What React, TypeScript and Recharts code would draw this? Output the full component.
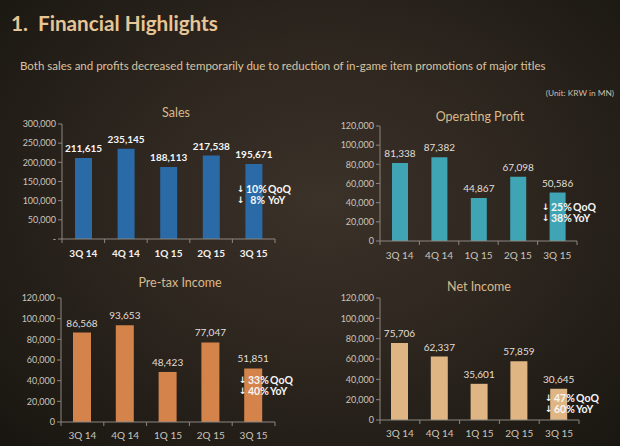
import React from 'react';
import { BarChart, Bar, XAxis, YAxis, LabelList } from 'recharts';

const categories = ['3Q 14', '4Q 14', '1Q 15', '2Q 15', '3Q 15'];
const salesValues = [211615, 235145, 188113, 217538, 195671];
const operatingValues = [81338, 87382, 44867, 67098, 50586];
const pretaxValues = [86568, 93653, 48423, 77047, 51851];
const netValues = [75706, 62337, 35601, 57859, 30645];
const salesTicks = [0, 50000, 100000, 150000, 200000, 250000, 300000];
const profitTicks = [0, 20000, 40000, 60000, 80000, 100000, 120000];
const chartTitles = ['Sales', 'Operating Profit', 'Pre-tax Income', 'Net Income'];
const qoqChanges = ['10%', '25%', '33%', '47%'];
const yoyChanges = ['8%', '38%', '40%', '60%'];

const FONT = 'Lato, "Noto Sans", sans-serif';
const AXIS = '#8c8680';
const TICK = '#cbc4ba';

type Panel = {
  values: number[];
  ticks: number[];
  color: string;
  bold: boolean;
  zeroDash: boolean;
  left: number;
  top: number;
  width: number;
  height: number;
  marginTop: number;
  marginRight: number;
  yAxisWidth: number;
  xAxisHeight: number;
  barSize: number;
  labelDy: number;
  titleX: number;
  titleY: number;
  noteX: number;
  noteY: number;
};

const panels: Panel[] = [
  {
    values: salesValues, ticks: salesTicks, color: '#2a6aa6', bold: true, zeroDash: true,
    left: 0, top: 100, width: 300, height: 170, marginTop: 24, marginRight: 25, yAxisWidth: 62, xAxisHeight: 31,
    barSize: 17, labelDy: 14, titleX: 176, titleY: 112, noteX: 237, noteY: 184,
  },
  {
    values: operatingValues, ticks: profitTicks, color: '#3fa5b4', bold: false, zeroDash: false,
    left: 310, top: 100, width: 300, height: 170, marginTop: 26, marginRight: 33, yAxisWidth: 70, xAxisHeight: 29,
    barSize: 16, labelDy: 14, titleX: 480, titleY: 116, noteX: 542, noteY: 202,
  },
  {
    values: pretaxValues, ticks: profitTicks, color: '#d4844a', bold: false, zeroDash: false,
    left: 0, top: 270, width: 300, height: 176, marginTop: 28, marginRight: 25, yAxisWidth: 61, xAxisHeight: 24,
    barSize: 18, labelDy: 13, titleX: 180, titleY: 282, noteX: 239, noteY: 375,
  },
  {
    values: netValues, ticks: profitTicks, color: '#dfb683', bold: false, zeroDash: false,
    left: 310, top: 270, width: 300, height: 176, marginTop: 28, marginRight: 31, yAxisWidth: 70, xAxisHeight: 26,
    barSize: 17, labelDy: 13, titleX: 479, titleY: 286, noteX: 545, noteY: 393,
  },
];

const fmt = (zeroDash: boolean) => (v: any) => {
  const n = Number(v);
  if (n === 0 && zeroDash) return '-';
  return n.toLocaleString('en-US');
};

function makeXTick(halfBand: number, labelDy: number, bold: boolean, n: number) {
  return (props: any) => {
    const { x, y, payload, index } = props;
    return (
      <g>
        <line x1={x - halfBand} x2={x - halfBand} y1={y} y2={y + 4} stroke={AXIS} strokeWidth={1} />
        {index === n - 1 && (
          <line x1={x + halfBand} x2={x + halfBand} y1={y} y2={y + 4} stroke={AXIS} strokeWidth={1} />
        )}
        <text
          x={x}
          y={y + labelDy}
          textAnchor="middle"
          dominantBaseline="central"
          fill={bold ? '#f4f2ee' : TICK}
          fontSize={10}
          fontWeight={bold ? 700 : 400}
          fontFamily={FONT}
        >
          {payload.value}
        </text>
      </g>
    );
  };
}

function Note({ x, y, qoq, yoy }: { x: number; y: number; qoq: string; yoy: string }) {
  const row = (pct: string, label: string) => (
    <div style={{ display: 'flex', height: 10.5, lineHeight: '10.5px' }}>
      <span style={{ width: 9, fontFamily: '"DejaVu Sans", sans-serif', fontSize: 9 }}>↓</span>
      <span style={{ width: 19, textAlign: 'right' }}>{pct}</span>
      <span style={{ marginLeft: 3 }}>{label}</span>
    </div>
  );
  return (
    <div
      style={{
        position: 'absolute', left: x, top: y, color: '#f6f6f6', fontFamily: FONT,
        fontSize: 10.5, fontWeight: 700, whiteSpace: 'nowrap',
      }}
    >
      {row(qoq, 'QoQ')}
      {row(yoy, 'YoY')}
    </div>
  );
}

function ChartPanel({ p, idx }: { p: Panel; idx: number }) {
  const data = categories.map((c, i) => ({ category: c, value: p.values[i] }));
  const plotWidth = p.width - p.yAxisWidth - p.marginRight;
  const halfBand = plotWidth / categories.length / 2;
  return (
    <>
      <div
        style={{
          position: 'absolute', left: p.titleX, top: p.titleY, transform: 'translate(-50%, -50%)',
          color: '#d9b98b', fontFamily: FONT, fontSize: 12.5, whiteSpace: 'nowrap',
        }}
      >
        {chartTitles[idx]}
      </div>
      <div style={{ position: 'absolute', left: p.left, top: p.top }}>
        <BarChart
          width={p.width}
          height={p.height}
          data={data}
          margin={{ top: p.marginTop, right: p.marginRight, left: 0, bottom: 0 }}
        >
          <XAxis
            dataKey="category"
            height={p.xAxisHeight}
            interval={0}
            tickLine={false}
            tickSize={0}
            tickMargin={0}
            axisLine={{ stroke: AXIS }}
            tick={makeXTick(halfBand, p.labelDy, p.bold, categories.length)}
          />
          <YAxis
            width={p.yAxisWidth}
            ticks={p.ticks}
            domain={[p.ticks[0], p.ticks[p.ticks.length - 1]]}
            interval={0}
            tickSize={4}
            tickMargin={2}
            tickLine={{ stroke: AXIS }}
            axisLine={{ stroke: AXIS }}
            tickFormatter={fmt(p.zeroDash)}
            tick={{ fill: TICK, fontSize: 9, fontFamily: FONT }}
          />
          <Bar dataKey="value" fill={p.color} barSize={p.barSize} isAnimationActive={false}>
            <LabelList
              dataKey="value"
              position="top"
              offset={6}
              formatter={fmt(false)}
              fill={p.bold ? '#f6f6f6' : '#e2ded8'}
              fontSize={10}
              fontWeight={p.bold ? 700 : 400}
              fontFamily={FONT}
            />
          </Bar>
        </BarChart>
      </div>
      <Note x={p.noteX} y={p.noteY} qoq={qoqChanges[idx]} yoy={yoyChanges[idx]} />
    </>
  );
}

export default function App() {
  return (
    <div
      style={{
        position: 'absolute', left: 0, top: 0, width: 620, height: 446, overflow: 'hidden',
        background:
          'radial-gradient(ellipse 75% 80% at 52% 45%, #3b3229 0%, #2d261f 45%, #17140f 100%)',
        fontFamily: FONT,
      }}
    >
      <div
        style={{
          position: 'absolute', left: 11, top: 10, color: '#e6c697', fontSize: 20.7,
          fontWeight: 700, whiteSpace: 'nowrap', lineHeight: '26px',
        }}
      >
        1.&nbsp;&nbsp;Financial Highlights
      </div>
      <div
        style={{
          position: 'absolute', left: 20, top: 58, color: '#d8c3a2', fontSize: 11.5,
          whiteSpace: 'nowrap', lineHeight: '16px',
        }}
      >
        Both sales and profits decreased temporarily due to reduction of in-game item promotions of major titles
      </div>
      <div
        style={{
          position: 'absolute', right: 6, top: 87, color: '#cdbfae', fontSize: 8.3,
          whiteSpace: 'nowrap', lineHeight: '12px',
        }}
      >
        (Unit: KRW in MN)
      </div>
      {panels.map((p, i) => (
        <ChartPanel key={i} p={p} idx={i} />
      ))}
    </div>
  );
}
